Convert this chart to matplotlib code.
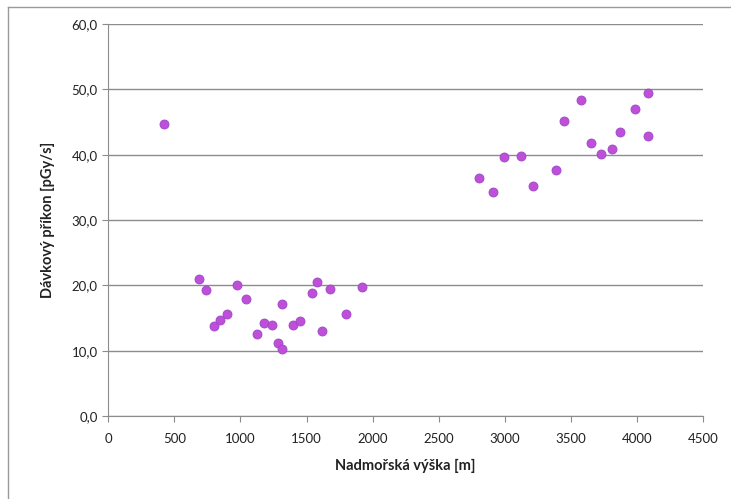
import matplotlib
matplotlib.use('Agg')
import matplotlib.pyplot as plt
from matplotlib.lines import Line2D
from matplotlib.ticker import FuncFormatter

# nadmořská výška [m] a dávkový příkon [pGy/s]
vyska = [424, 690, 740, 800, 847, 895, 975, 1045, 1125, 1178, 1240, 1285, 1315,
         1315, 1397, 1447, 1538, 1580, 1620, 1677, 1795, 1920,
         2804, 2907, 2993, 3124, 3209, 3389, 3449, 3573, 3648, 3727, 3812,
         3871, 3986, 4085, 4085]
prikon = [44.7, 21.0, 19.3, 13.8, 14.7, 15.7, 20.0, 18.0, 12.5, 14.2, 14.0, 11.2, 10.3,
          17.2, 13.9, 14.5, 18.9, 20.5, 13.0, 19.5, 15.7, 19.7,
          36.4, 34.3, 39.6, 39.8, 35.2, 37.6, 45.1, 48.3, 41.8, 40.1, 40.9,
          43.5, 47.0, 49.5, 42.8]

x_ticks = list(range(0, 4501, 500))
y_ticks = [0, 10, 20, 30, 40, 50, 60]

plt.rcParams['font.family'] = ['Lato', 'DejaVu Sans']

fig = plt.figure(figsize=(7.31, 4.99), dpi=100)
ax = fig.add_axes([0.148, 0.166, 0.814, 0.786])

ax.scatter(vyska, prikon, s=42, color='#BF4ED8', edgecolors='#9A48C8', linewidths=0.6, zorder=3)

ax.set_xlim(0, 4500)
ax.set_ylim(0, 60)
ax.set_xticks(x_ticks)
ax.set_yticks(y_ticks)
ax.yaxis.set_major_formatter(FuncFormatter(lambda v, p: ('%.1f' % v).replace('.', ',')))
ax.grid(axis='y', color='#8c8c8c', linewidth=1)
ax.set_axisbelow(True)

for s in ['top', 'right']:
    ax.spines[s].set_visible(False)
for s in ['left', 'bottom']:
    ax.spines[s].set_color('#8c8c8c')
ax.tick_params(axis='both', colors='#8c8c8c', labelcolor='#222222', labelsize=9.5, length=4)
ax.tick_params(axis='x', pad=8)

ax.set_xlabel('Nadmořská výška [m]', fontsize=10.5, fontweight='bold', color='#222222', labelpad=10)
ax.set_ylabel('Dávkový příkon [pGy/s]', fontsize=10.5, fontweight='bold', color='#222222', labelpad=12)

# rámeček grafu
fig.add_artist(Line2D([8/731, 1], [1 - 7/499, 1 - 7/499], transform=fig.transFigure, color='#9a9a9a', lw=1))
fig.add_artist(Line2D([8/731, 8/731], [0, 1 - 7/499], transform=fig.transFigure, color='#9a9a9a', lw=1))

fig.savefig('out.png', dpi=100)
